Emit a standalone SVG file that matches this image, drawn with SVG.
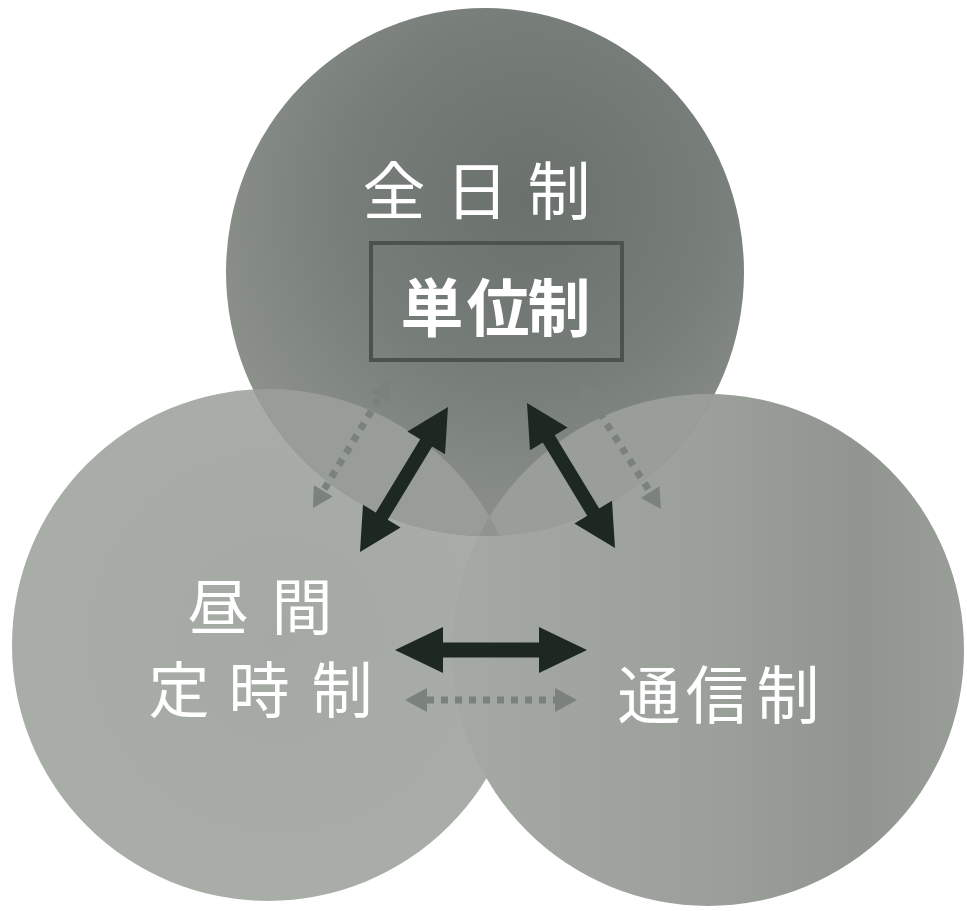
<svg xmlns="http://www.w3.org/2000/svg" width="967" height="911" viewBox="0 0 967 911">
<style>
.lbl{fill:#ffffff;font-family:"Noto Sans CJK JP","Noto Sans CJK SC",sans-serif;font-size:63px;font-weight:400;text-anchor:middle}
.sm{font-size:61px}
.bold{font-weight:700}
.solid{fill:#1e2822}
.dotline{stroke:#7b817c;stroke-width:7;stroke-dasharray:7 7;fill:none}
.dothead{fill:#7b817c}
</style>
<defs>
<radialGradient id="gTop" gradientUnits="userSpaceOnUse" cx="530" cy="200" r="330">
<stop offset="0" stop-color="#6a706b"/>
<stop offset="0.55" stop-color="#777d78"/>
<stop offset="1" stop-color="#8b908b"/>
</radialGradient>
<radialGradient id="gLeft" gradientUnits="userSpaceOnUse" cx="280" cy="640" r="260">
<stop offset="0" stop-color="#a4a9a3"/>
<stop offset="1" stop-color="#a8ada7"/>
</radialGradient>
<linearGradient id="gRight" gradientUnits="userSpaceOnUse" x1="452" y1="0" x2="964" y2="0">
<stop offset="0" stop-color="#a4a9a3"/>
<stop offset="0.5" stop-color="#9ba09a"/>
<stop offset="0.8" stop-color="#90958f"/>
<stop offset="1" stop-color="#999e98"/>
</linearGradient>
<clipPath id="cTop"><ellipse cx="485" cy="272" rx="259" ry="264"/></clipPath>
<clipPath id="cLeft"><circle cx="268" cy="645" r="256"/></clipPath>
</defs>

<g id="node-chukan-teijisei">
<circle cx="268" cy="645" r="256" fill="url(#gLeft)"/>
</g>
<g id="node-tsushinsei">
<circle cx="708" cy="650" r="256" fill="url(#gRight)"/>
</g>
<g id="node-zennichisei">
<ellipse cx="485" cy="272" rx="259" ry="264" fill="url(#gTop)"/>
</g>

<g id="overlaps">
<g clip-path="url(#cTop)">
<circle cx="268" cy="645" r="256" fill="#989d97"/>
<circle cx="708" cy="650" r="256" fill="#999e98"/>
<g clip-path="url(#cLeft)">
<circle cx="708" cy="650" r="256" fill="#8f948f"/>
</g>
</g>
</g>

<g id="labels">
<g id="label-zennichisei">
<text class="lbl" x="394 477 559" y="214">全日制</text>
<rect id="node-tanisei" x="371" y="243" width="251" height="117" fill="none" stroke="#4b534d" stroke-width="4"/>
<text class="lbl bold" x="432 498 559" y="331">単位制</text>
</g>
<g id="label-chukan-teijisei">
<text class="lbl sm" x="218 302" y="630">昼間</text>
<text class="lbl sm" x="179 259 342" y="713">定時制</text>
</g>
<g id="label-tsushinsei">
<text class="lbl" x="649 717 788" y="718">通信制</text>
</g>
</g>

<g id="connectors">
<path class="solid" transform="translate(360,552) rotate(-58.75)" d="M0,0 L42,-22 L42,-7 L127.6,-7 L127.6,-22 L169.6,0 L127.6,22 L127.6,7 L42,7 L42,22 Z"/>
<path class="solid" transform="translate(527,403) rotate(58.75)" d="M0,0 L42,-22 L42,-7 L127.6,-7 L127.6,-22 L169.6,0 L127.6,22 L127.6,7 L42,7 L42,22 Z"/>
<path class="solid" transform="translate(395,650)" d="M0,0 L48,-23 L48,-7.5 L144,-7.5 L144,-23 L192,0 L144,23 L144,7.5 L48,7.5 L48,23 Z"/>

<g transform="translate(313,508) rotate(-58.97)">
<line class="dotline" x1="22" y1="0" x2="127" y2="0"/>
<path class="dothead" d="M0,0 L20,-11 L20,11 Z M149.4,0 L129.4,-11 L129.4,11 Z"/>
</g>
<g transform="translate(580,382) rotate(57.5)">
<line class="dotline" x1="22" y1="0" x2="128" y2="0"/>
<path class="dothead" d="M0,0 L20,-11 L20,11 Z M150.6,0 L130.6,-11 L130.6,11 Z"/>
</g>
<g transform="translate(405,700)">
<line class="dotline" x1="22" y1="0" x2="150" y2="0"/>
<path class="dothead" d="M0,0 L22,-12 L22,12 Z M172,0 L150,-12 L150,12 Z"/>
</g>
</g>
</svg>
